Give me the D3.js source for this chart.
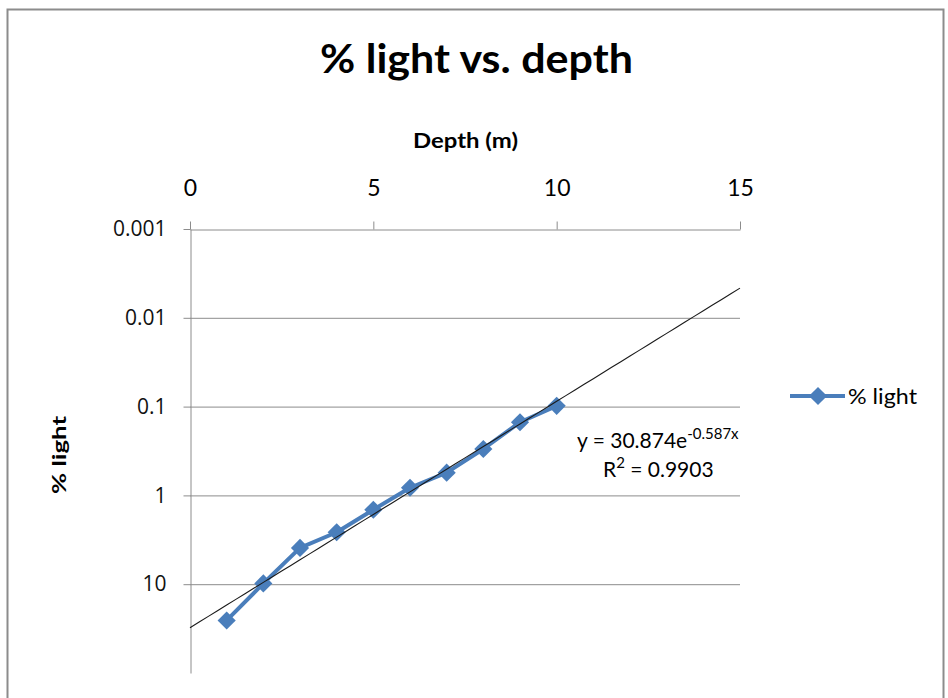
<!DOCTYPE html>
<html>
<head>
<meta charset="utf-8">
<title>% light vs. depth</title>
<script src="https://d3js.org/d3.v7.min.js"></script>
<style>
  body { margin: 0; background: #fff; }
</style>
</head>
<body>
<div id="chart"></div>
<script>
// data
var depth = [1, 2, 3, 4, 5, 6, 7, 8, 9, 10];
var light = [25.6, 9.8, 3.9, 2.6, 1.45, 0.82, 0.555, 0.30, 0.15, 0.098];
var xTicks = [0, 5, 10, 15];
var yTicks = [0.001, 0.01, 0.1, 1, 10];
var yTickLabels = ["0.001", "0.01", "0.1", "1", "10"];
// exponential trendline y = a * e^(b x)
var trendA = 30.874;
var trendB = -0.587;
var trendR2 = "0.9903";
var trendRange = [0, 15];
var seriesName = "% light";

var W = 948, H = 698;
var blue = "#4a7ebb";
var calibri = "Lato, 'Open Sans', sans-serif";

var svg = d3.select("#chart").append("svg")
    .attr("width", W).attr("height", H);

// chart frame
svg.append("rect")
    .attr("x", 7.5).attr("y", 9.5)
    .attr("width", 936).attr("height", 700)
    .attr("fill", "#fff")
    .attr("stroke", "#8c8c8c").attr("stroke-width", 2);

var x = d3.scaleLinear().domain([0, 15]).range([190, 740]);
var y = d3.scaleLog().domain([0.001, 100]).range([229, 673]);

// title
svg.append("text")
    .attr("x", 320).attr("y", 73)
    .attr("textLength", 313).attr("lengthAdjust", "spacingAndGlyphs")
    .style("font-family", calibri).style("font-weight", "bold")
    .style("font-size", "40px")
    .text("% light vs. depth");

// gridlines
svg.append("g").selectAll("line")
    .data(yTicks.slice(1))
    .enter().append("line")
    .attr("x1", x(0)).attr("x2", x(15))
    .attr("y1", function (d) { return y(d) + 0.5; })
    .attr("y2", function (d) { return y(d) + 0.5; })
    .attr("stroke", "#8c8c8c").attr("stroke-width", 1);

// top x axis
var xAxis = svg.append("g")
    .attr("transform", "translate(0," + (y(0.001) + 0.5) + ")")
    .call(d3.axisTop(x).tickValues(xTicks).tickSize(8).tickPadding(26).tickSizeOuter(0));
xAxis.selectAll("text")
    .style("font-family", calibri).style("font-size", "23px").attr("fill", "#000");
xAxis.selectAll("line, path").attr("stroke", "#8c8c8c");

// left y axis
var yAxis = svg.append("g")
    .attr("transform", "translate(" + (x(0) + 0.5) + ",0)")
    .call(d3.axisLeft(y).tickValues(yTicks)
        .tickFormat(function (d, i) { return yTickLabels[i]; })
        .tickSize(7).tickPadding(17).tickSizeOuter(0));
yAxis.selectAll("text")
    .style("font-family", "'Open Sans', sans-serif")
    .style("font-size", "21px").attr("fill", "#111");
yAxis.selectAll("line, path").attr("stroke", "#8c8c8c");

// axis titles
svg.append("text")
    .attr("x", 413).attr("y", 148)
    .attr("textLength", 105).attr("lengthAdjust", "spacingAndGlyphs")
    .style("font-family", calibri).style("font-weight", "bold")
    .style("font-size", "21px")
    .text("Depth (m)");

svg.append("text")
    .attr("transform", "translate(66,494) rotate(-90)")
    .attr("textLength", 78).attr("lengthAdjust", "spacingAndGlyphs")
    .style("font-family", calibri).style("font-weight", "bold")
    .style("font-size", "19px")
    .text("% light");

// series
var pts = depth.map(function (d, i) { return [d, light[i]]; });
var line = d3.line()
    .x(function (d) { return x(d[0]); })
    .y(function (d) { return y(d[1]); });

svg.append("path")
    .datum(pts)
    .attr("d", line)
    .attr("fill", "none")
    .attr("stroke", blue).attr("stroke-width", 4)
    .attr("stroke-linejoin", "round");

var diamond = d3.symbol().type(d3.symbolDiamond2).size(210);
svg.append("g").selectAll("path")
    .data(pts)
    .enter().append("path")
    .attr("d", diamond)
    .attr("transform", function (d) { return "translate(" + x(d[0]) + "," + y(d[1]) + ")"; })
    .attr("fill", blue);

// trendline
var trendPts = d3.range(trendRange[0], trendRange[1] + 0.001, 0.25)
    .map(function (t) { return [t, trendA * Math.exp(trendB * t)]; });
svg.append("path")
    .datum(trendPts)
    .attr("d", line)
    .attr("fill", "none")
    .attr("stroke", "#1a1a1a").attr("stroke-width", 1.1);

// trendline equation
var eq = svg.append("text")
    .attr("x", 577).attr("y", 448)
    .style("font-family", calibri).style("font-size", "21px");
eq.append("tspan").text("y = " + trendA + "e");
eq.append("tspan").attr("dy", -9).style("font-size", "15px").text(trendB + "x");

var r2 = svg.append("text")
    .attr("x", 603).attr("y", 477)
    .style("font-family", calibri).style("font-size", "21px");
r2.append("tspan").text("R");
r2.append("tspan").attr("dy", -9).style("font-size", "15px").text("2");
r2.append("tspan").attr("dy", 9).text(" = " + trendR2);

// legend
var lg = svg.append("g").attr("transform", "translate(790,396)");
lg.append("line").attr("x1", 0).attr("x2", 55)
    .attr("stroke", blue).attr("stroke-width", 4);
lg.append("path").attr("d", diamond).attr("transform", "translate(28,0)").attr("fill", blue);
lg.append("text").attr("x", 58).attr("y", 8)
    .attr("textLength", 69).attr("lengthAdjust", "spacingAndGlyphs")
    .style("font-family", calibri).style("font-size", "21px")
    .text(seriesName);
</script>
</body>
</html>
